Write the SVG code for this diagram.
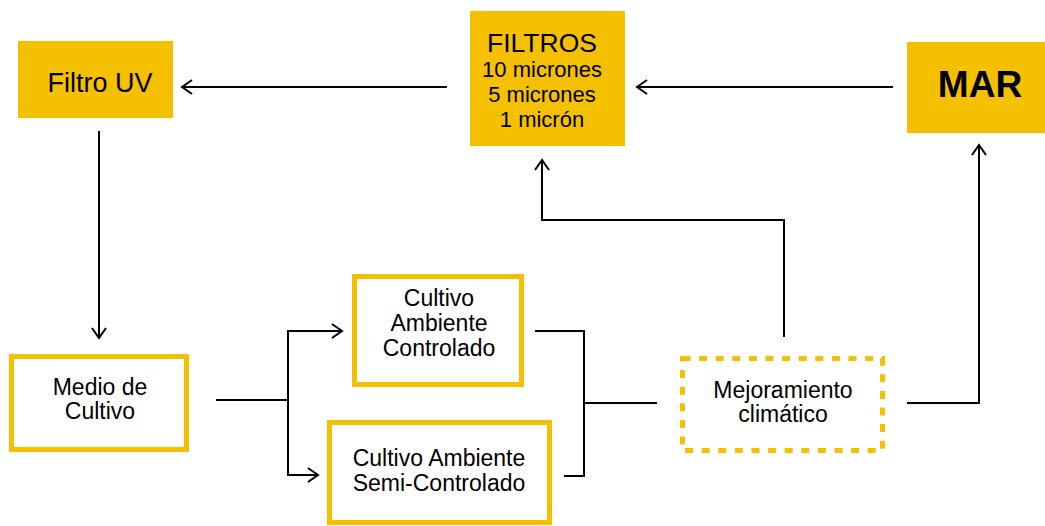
<svg xmlns="http://www.w3.org/2000/svg" width="1045" height="526" viewBox="0 0 1045 526">
<style>
.fill{fill:#F5C000}
.box{fill:#fff;stroke:#F5C000;stroke-width:5}
.dash{fill:#fff;stroke:#F5C000;stroke-width:5;stroke-dasharray:8 8.6}
.t{font-family:"Liberation Sans",Arial,sans-serif;fill:#000;text-anchor:middle}
.c{fill:none;stroke:#000;stroke-width:2}
</style>
<defs>
<marker id="ah" markerUnits="userSpaceOnUse" markerWidth="16" markerHeight="18" refX="12" refY="8" orient="auto">
<path d="M2,1 L12,8 L2,15" fill="none" stroke="#000" stroke-width="2"/>
</marker>
</defs>
<rect width="1045" height="526" fill="#fff"/>
<g id="connectors">
<line class="c" x1="447" y1="87" x2="182" y2="87" marker-end="url(#ah)"/>
<line class="c" x1="893" y1="87" x2="637" y2="87" marker-end="url(#ah)"/>
<line class="c" x1="99" y1="131" x2="99" y2="338" marker-end="url(#ah)"/>
<polyline class="c" points="216,400 288,400"/>
<polyline class="c" points="288,475 288,331 342,331" marker-end="url(#ah)"/>
<polyline class="c" points="288,400 288,475 318,475" marker-end="url(#ah)"/>
<polyline class="c" points="535,331 584,331 584,476 564,476"/>
<line class="c" x1="584" y1="403" x2="657" y2="403"/>
<polyline class="c" points="784,337 784,220 542,220 542,160" marker-end="url(#ah)"/>
<polyline class="c" points="907,403 979,403 979,145" marker-end="url(#ah)"/>
</g>
<g id="filtro-uv">
<rect class="fill" x="18" y="41" width="155" height="77"/>
<text class="t" x="100" y="92" font-size="27">Filtro UV</text>
</g>
<g id="filtros">
<rect class="fill" x="470" y="11" width="155" height="135"/>
<text class="t" x="542" y="52" font-size="26.5">FILTROS</text>
<text class="t" x="542" y="77" font-size="22">10 micrones</text>
<text class="t" x="542" y="102" font-size="22">5 micrones</text>
<text class="t" x="542" y="127" font-size="22">1 micrón</text>
</g>
<g id="mar">
<rect class="fill" x="907" y="42" width="138" height="91"/>
<text class="t" x="980" y="97" font-size="37" font-weight="bold">MAR</text>
</g>
<g id="medio">
<rect class="box" x="11.5" y="356.5" width="175" height="93"/>
<text class="t" x="100" y="395" font-size="23">Medio de</text>
<text class="t" x="100" y="419" font-size="23">Cultivo</text>
</g>
<g id="controlado">
<rect class="box" x="354.5" y="276.5" width="167" height="108"/>
<text class="t" x="439" y="306" font-size="23">Cultivo</text>
<text class="t" x="439" y="331" font-size="23">Ambiente</text>
<text class="t" x="439" y="356" font-size="23">Controlado</text>
</g>
<g id="semi">
<rect class="box" x="329.5" y="422.5" width="220" height="100"/>
<text class="t" x="439" y="466" font-size="23">Cultivo Ambiente</text>
<text class="t" x="439" y="491" font-size="23">Semi-Controlado</text>
</g>
<g id="mejoramiento">
<rect class="dash" x="682.5" y="358.5" width="200" height="92"/>
<text class="t" x="783" y="398" font-size="23">Mejoramiento</text>
<text class="t" x="783" y="422" font-size="23">climático</text>
</g>
</svg>
